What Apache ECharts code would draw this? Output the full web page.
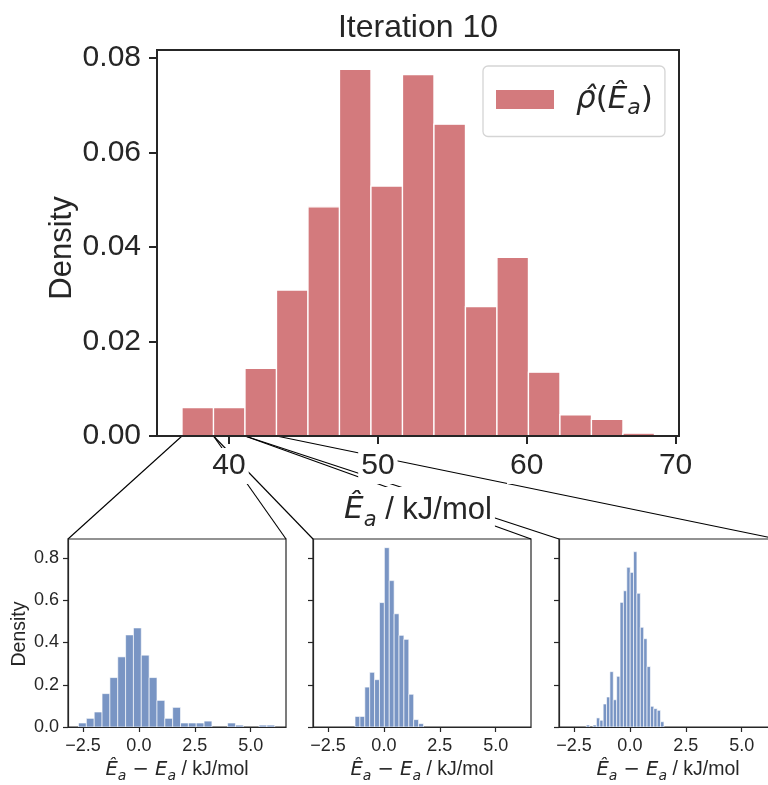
<!DOCTYPE html>
<html>
<head>
<meta charset="utf-8">
<script src="https://cdn.jsdelivr.net/npm/echarts@6/dist/echarts.min.js"></script>
<style>
  html, body { margin: 0; padding: 0; background: #fff; overflow: hidden; }
  /* the third error panel runs past the right edge of the page */
  #chart { width: 800px; height: 785px; }
</style>
</head>
<body>
<div id="chart"></div>
<script>
// Histogram of estimated activation energies (iteration 10)
const mainEdges = [36.84, 38.956, 41.072, 43.188, 45.304, 47.42, 49.536, 51.652,
                   53.768, 55.884, 58.0, 60.116, 62.232, 64.348, 66.464, 68.58];
const mainDensity = [0.0060, 0.0060, 0.0143, 0.0309, 0.0485, 0.0776, 0.0529, 0.0765,
                     0.0660, 0.0274, 0.0378, 0.0135, 0.0045, 0.0035, 0.0006];
const mainTicksX = [40, 50, 60, 70];
const mainTicksY = [0, 0.02, 0.04, 0.06, 0.08];

// Error histograms (estimate minus true value) for the three lowest bins
const errBinStart = [-2.70, -1.29, -1.95];
const errBinWidth = [0.351, 0.2186, 0.151];
const errDensity1 = [0.019, 0.041, 0.071, 0.158, 0.234, 0.332, 0.436, 0.469, 0.340, 0.234,
                     0.126, 0.041, 0.093, 0.019, 0.019, 0.019, 0.028, 0, 0, 0.019,
                     0.009, 0, 0, 0.009, 0.009];
const errDensity2 = [0.050, 0.050, 0.189, 0.259, 0.224, 0.589, 0.849, 0.693, 0.536, 0.434,
                     0.415, 0.155, 0.035, 0.016];
const errDensity3 = [0.0095, 0, 0.0095, 0.043, 0.032, 0.109, 0.142, 0.262, 0.129, 0.240,
                     0.590, 0.645, 0.756, 0.732, 0.830, 0.633, 0.472, 0.418, 0.286, 0.098,
                     0.087, 0.079, 0.025];
const errTicksX = [-2.5, 0, 2.5, 5];
const errTicksY = [0, 0.2, 0.4, 0.6, 0.8];

const INK = '#262626';
const RED = '#D37A7D';
const BLUE = '#7995C4';
const SANS = '"Liberation Sans", Arial, sans-serif';
const MATH = '"DejaVu Sans", sans-serif';

// [left edge, right edge, density] rows for a histogram
function binsFromEdges(edges, dens) {
  return dens.map((d, i) => [edges[i], edges[i + 1], d]);
}
function binsFromStart(start, width, dens) {
  return dens.map((d, i) => [start + i * width, start + (i + 1) * width, d]);
}

function histRenderer(fill, stroke, lw) {
  return function (params, api) {
    const h = api.value(2);
    if (!(h > 0)) return null;
    const p0 = api.coord([api.value(0), h]);
    const p1 = api.coord([api.value(1), 0]);
    return {
      type: 'rect',
      shape: { x: p0[0], y: p0[1], width: p1[0] - p0[0], height: p1[1] - p0[1] },
      style: { fill: fill, stroke: stroke, lineWidth: lw }
    };
  };
}

const fmtMinus = v => (v < 0 ? '\u2212' + Math.abs(v).toFixed(1) : v.toFixed(1));

const chart = echarts.init(document.getElementById('chart'), null, { renderer: 'canvas' });

const smallLefts = [68, 313, 559];
const grids = [
  { left: 157, top: 50, width: 522, height: 386, show: true, borderColor: INK, borderWidth: 2, backgroundColor: 'transparent' }
].concat(smallLefts.map(l => ({
  left: l, top: 539, width: 218, height: 188, show: true, borderColor: INK, borderWidth: 1.2, backgroundColor: 'transparent'
})));

const xAxes = [{
  type: 'value', gridIndex: 0, min: 35.16, max: 70.23, z: 5,
  splitLine: { show: false },
  axisLine: { show: true, onZero: false, lineStyle: { color: INK, width: 2 } },
  axisTick: { show: true, customValues: mainTicksX, length: 8, lineStyle: { color: INK, width: 2 } },
  axisLabel: {
    customValues: mainTicksX, fontSize: 30, fontFamily: SANS, color: INK, margin: 12,
    backgroundColor: '#fff', padding: [3, 3, 3, 3]
  }
}].concat([1, 2, 3].map(g => ({
  type: 'value', gridIndex: g, min: -3.17, max: 6.58, z: 5,
  splitLine: { show: false },
  axisLine: { show: true, onZero: false, lineStyle: { color: INK, width: 1.2 } },
  axisTick: { show: true, customValues: errTicksX, length: 5, lineStyle: { color: INK, width: 1.2 } },
  axisLabel: { customValues: errTicksX, fontSize: 18, fontFamily: SANS, color: INK, margin: 10, formatter: fmtMinus }
})));

const yAxes = [{
  type: 'value', gridIndex: 0, min: 0, max: 0.0817, z: 5,
  splitLine: { show: false },
  axisLine: { show: true, onZero: false, lineStyle: { color: INK, width: 2 } },
  axisTick: { show: true, customValues: mainTicksY, length: 8, lineStyle: { color: INK, width: 2 } },
  axisLabel: { customValues: mainTicksY, fontSize: 30, fontFamily: SANS, color: INK, margin: 16, formatter: v => v.toFixed(2) }
}].concat([1, 2, 3].map(g => ({
  type: 'value', gridIndex: g, min: 0, max: 0.89, z: 5,
  splitLine: { show: false },
  axisLine: { show: true, onZero: false, lineStyle: { color: INK, width: 1.2 } },
  axisTick: { show: true, customValues: errTicksY, length: 5, lineStyle: { color: INK, width: 1.2 } },
  axisLabel: { show: g === 1, customValues: errTicksY, fontSize: 18, fontFamily: SANS, color: INK, margin: 9, formatter: v => v.toFixed(1) }
})));

const legendName = 'rho';
const errSets = [errDensity1, errDensity2, errDensity3];

chart.setOption({
  animation: false,
  backgroundColor: '#fff',
  grid: grids,
  xAxis: xAxes,
  yAxis: yAxes,
  legend: {
    data: [legendName],
    left: 483, top: 66,
    itemWidth: 58, itemHeight: 19,
    icon: 'rect',
    padding: [18, 12, 17, 13],
    backgroundColor: 'rgba(255,255,255,0.8)',
    borderColor: '#d5d5d5', borderWidth: 1.3, borderRadius: 5,
    formatter: () => '{it|\u03C1\u0302}{r|(}{it|\u00CA}{sub|a}{r|)}',
    textStyle: {
      color: INK, padding: [0, 0, 0, 17],
      rich: {
        it: { fontFamily: MATH, fontStyle: 'italic', fontSize: 31, lineHeight: 40, color: INK },
        r: { fontFamily: MATH, fontSize: 31, lineHeight: 40, color: INK },
        sub: { fontFamily: MATH, fontStyle: 'italic', fontSize: 22, lineHeight: 22, verticalAlign: 'bottom', color: INK }
      }
    }
  },
  series: [{
    name: legendName, type: 'custom', xAxisIndex: 0, yAxisIndex: 0,
    itemStyle: { color: RED }, clip: true,
    encode: { x: [0, 1], y: 2 },
    renderItem: histRenderer(RED, '#fff', 1.3),
    data: binsFromEdges(mainEdges, mainDensity)
  }].concat(errSets.map((d, i) => ({
    name: 'err' + (i + 1), type: 'custom', xAxisIndex: i + 1, yAxisIndex: i + 1,
    itemStyle: { color: BLUE }, clip: true,
    encode: { x: [0, 1], y: 2 },
    renderItem: histRenderer(BLUE, 'rgba(255,255,255,0.8)', 0.8),
    data: binsFromStart(errBinStart[i], errBinWidth[i], d)
  })))
});

// Connector lines: each bin of the main histogram to its error panel
const lineEls = [];
for (let i = 0; i < 3; i++) {
  const a = chart.convertToPixel({ gridIndex: 0 }, [mainEdges[i], 0]);
  const b = chart.convertToPixel({ gridIndex: 0 }, [mainEdges[i + 1], 0]);
  const tl = chart.convertToPixel({ gridIndex: i + 1 }, [-3.17, 0.89]);
  const tr = chart.convertToPixel({ gridIndex: i + 1 }, [6.58, 0.89]);
  [[a, tl], [b, tr]].forEach(([p, q]) => lineEls.push({
    type: 'line', z: 1, silent: true,
    shape: { x1: p[0], y1: p[1], x2: q[0], y2: q[1] },
    style: { stroke: '#000', lineWidth: 1.1 }
  }));
}

function label(x, y, text, size, rot, extra) {
  return {
    type: 'text', x: x, y: y, rotation: rot || 0, z: 20, silent: true,
    style: Object.assign({ text: text, fontSize: size, fontFamily: SANS, fill: INK, align: 'center', verticalAlign: 'middle' }, extra || {})
  };
}

const mathRich = (big, small) => ({
  it: { fontFamily: MATH, fontStyle: 'italic', fontSize: big, lineHeight: Math.round(big * 1.35), fill: INK, color: INK },
  r: { fontFamily: SANS, fontSize: big, lineHeight: Math.round(big * 1.35), fill: INK, color: INK },
  m: { fontFamily: MATH, fontSize: big, lineHeight: Math.round(big * 1.35), fill: INK, color: INK },
  sub: { fontFamily: MATH, fontStyle: 'italic', fontSize: small, lineHeight: small, verticalAlign: 'bottom', fill: INK, color: INK }
});

const texts = [
  label(418, 28, 'Iteration 10', 32),
  label(62, 248, 'Density', 31, Math.PI / 2),
  label(418, 510, '{it|\u00CA}{sub|a}{r| / kJ/mol}', 31, 0, {
    rich: mathRich(31, 21), backgroundColor: '#fff', padding: [2, 3, 2, 3]
  }),
  label(20, 634, 'Density', 19.5, Math.PI / 2)
].concat(smallLefts.map(l => label(l + 109, 770, '{it|\u00CA}{sub|a}{m| \u2212 }{it|E}{sub|a}{r| / kJ/mol}', 19.5, 0, {
  rich: mathRich(19.5, 14)
})));

chart.setOption({ graphic: { elements: lineEls.concat(texts) } });
</script>
</body>
</html>
